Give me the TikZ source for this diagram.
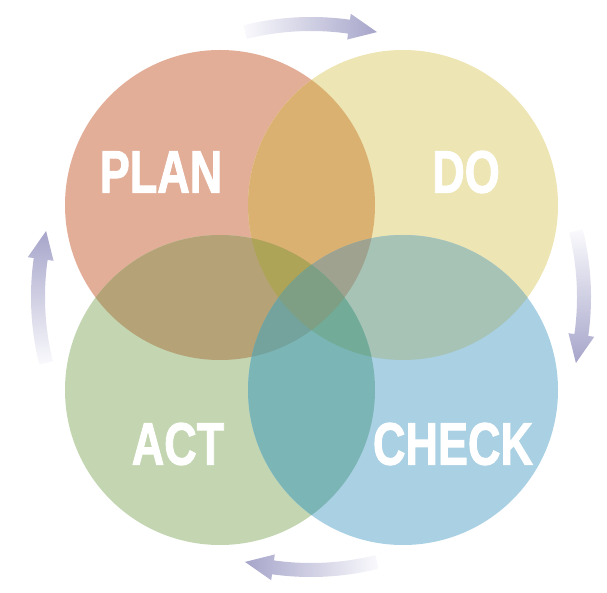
\documentclass[tikz,border=0pt]{standalone}
\usepackage{fontspec}
\newfontfamily\pdcafont[FakeStretch=0.75,FakeBold=1.5]{Liberation Sans}
\usetikzlibrary{calc}
% single circles
\definecolor{plancol}{HTML}{E3AE98}
\definecolor{docol}{HTML}{EDE5B3}
\definecolor{actcol}{HTML}{C3D6B1}
\definecolor{checkcol}{HTML}{A9D0E3}
% overlaps of two
\definecolor{pdcol}{HTML}{DBB172}
\definecolor{pacol}{HTML}{B5A276}
\definecolor{dccol}{HTML}{A7C3B5}
\definecolor{accol}{HTML}{7BB5B5}
% overlaps of three and four
\definecolor{pdacol}{HTML}{ADA458}
\definecolor{pdccol}{HTML}{9EA28F}
\definecolor{paccol}{HTML}{74A29D}
\definecolor{daccol}{HTML}{72AC98}
\definecolor{allcol}{HTML}{7E9F84}
\definecolor{arrowhead}{HTML}{A6A5CA}
\definecolor{arrowtail}{HTML}{FAFAFD}
\def\rad{155}
\tikzset{
	stage/.style={text=white,inner sep=0pt,font=\pdcafont\bfseries\fontsize{60}{60}\selectfont},
	arrowshade/.style={bottom color=arrowtail,top color=arrowhead}
}

\begin{document}
\begin{tikzpicture}[x=1pt,y=1pt]
	\useasboundingbox (0,0) rectangle (607,592);% page size of the reference
	% centres of the four circles and of the cycle
	\coordinate (P) at (220,387);
	\coordinate (D) at (403,387);
	\coordinate (A) at (220,202);
	\coordinate (C) at (403,202);
	\coordinate (M) at (311,295);
	\fill[plancol] (P) circle (\rad);% plan
	\fill[docol] (D) circle (\rad);% do
	\fill[actcol] (A) circle (\rad);% act
	\fill[checkcol] (C) circle (\rad);% check
	% two circles
	\begin{scope}
		\clip (P) circle (\rad);
		\fill[pdcol] (D) circle (\rad);
		\fill[pacol] (A) circle (\rad);
	\end{scope}
	\begin{scope}
		\clip (C) circle (\rad);
		\fill[dccol] (D) circle (\rad);
		\fill[accol] (A) circle (\rad);
	\end{scope}
	% three circles
	\begin{scope}
		\clip (P) circle (\rad);
		\clip (D) circle (\rad);
		\fill[pdacol] (A) circle (\rad);
		\fill[pdccol] (C) circle (\rad);
	\end{scope}
	\begin{scope}
		\clip (A) circle (\rad);
		\clip (C) circle (\rad);
		\fill[paccol] (P) circle (\rad);
		\fill[daccol] (D) circle (\rad);
	\end{scope}
	% all four
	\begin{scope}
		\clip (P) circle (\rad);
		\clip (D) circle (\rad);
		\clip (A) circle (\rad);
		\fill[allcol] (C) circle (\rad);
	\end{scope}
	\node[stage] (plan) at (161,420) {PLAN};
	\node[stage] (do) at (466,420) {DO};
	\node[stage] (act) at (178,148) {ACT};
	\node[stage] (check) at (453,148) {CHECK};
	% the four arrows of the cycle, turned by 90 degrees each
	\begin{scope}[shift={(M)}]
		\foreach \rot/\sh in {0/-90,-90/180,-180/90,-270/0}{
			\shade[arrowshade,shading angle=\sh]
				({\rot+104}:266) arc[start angle=\rot+104,end angle=\rot+82,radius=266]
				-- ({\rot+82}:260) -- ({\rot+76}:273) -- ({\rot+82}:286)
				-- ({\rot+82}:280) arc[start angle=\rot+82,end angle=\rot+104,radius=280]
				-- cycle;
		}
	\end{scope}
\end{tikzpicture}
\end{document}
